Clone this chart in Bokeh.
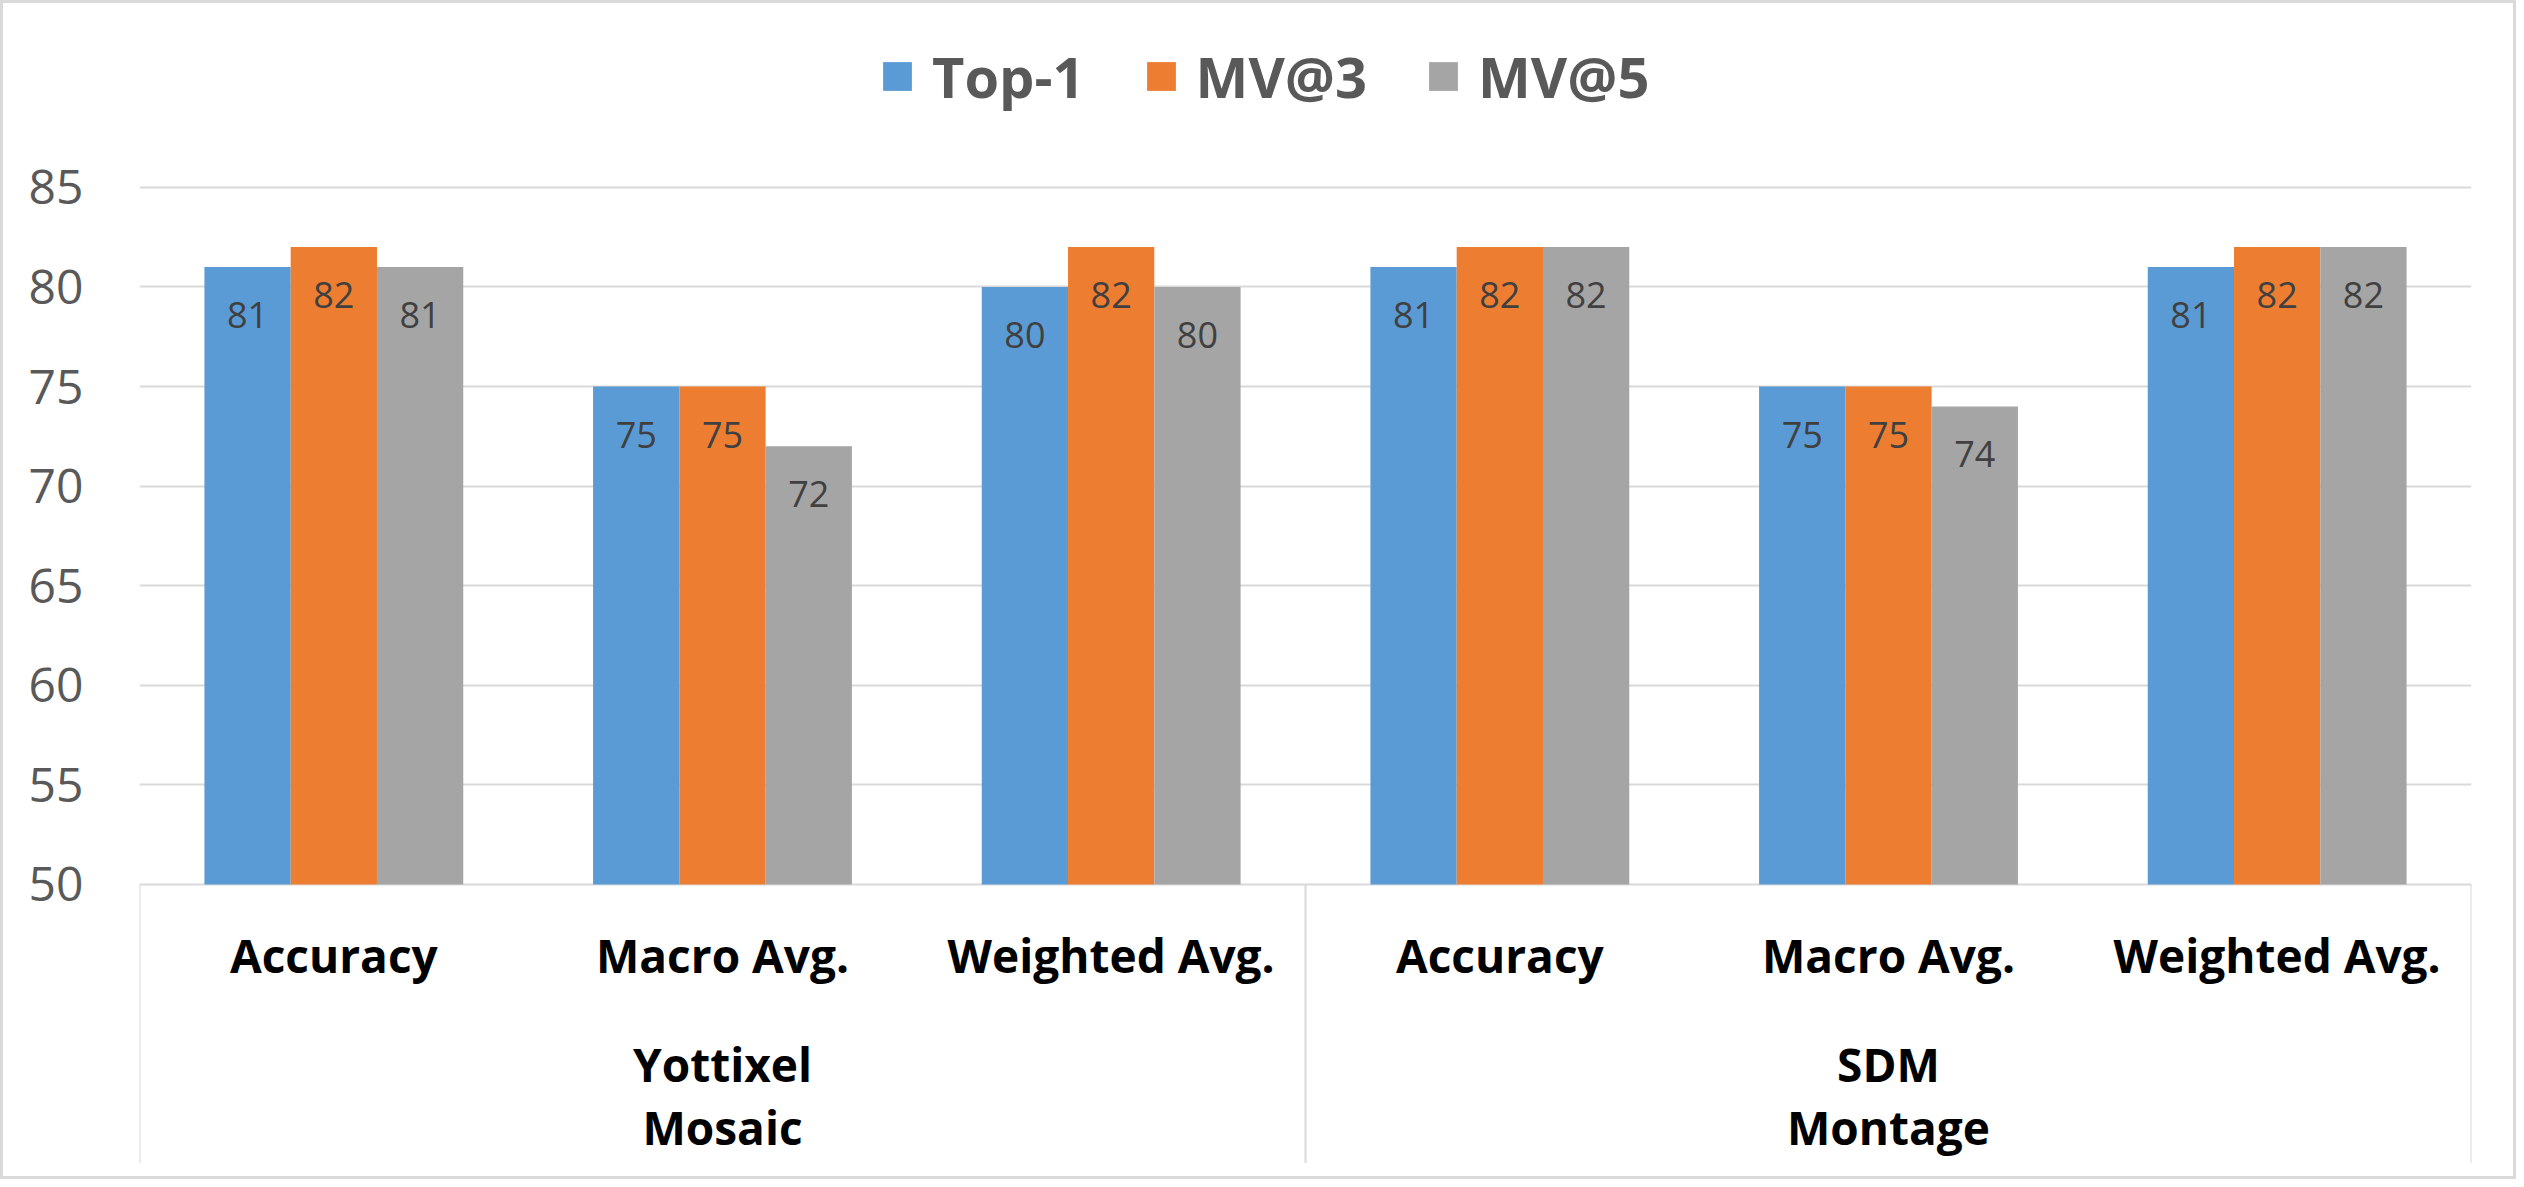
import numpy as np
from bokeh.plotting import figure
from bokeh.models import ColumnDataSource, Range1d, FixedTicker, Legend, LegendItem
from bokeh.core.properties import value
from bokeh.embed import file_html
from bokeh.resources import INLINE

# ---- data ----
groups = ["Yottixel\nMosaic", "SDM\nMontage"]
metrics = ["Accuracy", "Macro Avg.", "Weighted Avg."]
series_names = ["Top-1", "MV@3", "MV@5"]
top1 = [81, 75, 80, 81, 75, 81]
mv3 = [82, 75, 82, 82, 75, 82]
mv5 = [81, 72, 80, 82, 74, 82]
y_ticks = [50, 55, 60, 65, 70, 75, 80, 85]
colors = ["#5B9BD5", "#ED7D31", "#A5A5A5"]

n_cat = len(groups) * len(metrics)
centers = np.arange(n_cat) + 0.5
bar_w = 0.222
offsets = [-bar_w, 0.0, bar_w]

W, H = 2516, 1179
p = figure(width=W, height=H, output_backend="svg", toolbar_location=None,
           x_range=Range1d(0, n_cat), y_range=Range1d(35.04, 94.227),
           x_axis_location=None, min_border=0, min_border_left=136,
           min_border_right=48)
p.outline_line_color = None
p.background_fill_color = "white"
p.border_fill_color = "white"
p.styles = {"border": "3px solid #d9d9d9"}
p.xgrid.visible = False

ticker = FixedTicker(ticks=y_ticks)
yax = p.yaxis[0]
yax.ticker = ticker
yax.axis_line_color = None
yax.major_tick_line_color = None
yax.minor_tick_line_color = None
yax.major_label_standoff = 50
yax.major_label_text_font = "Open Sans"
yax.major_label_text_font_size = "48px"
yax.major_label_text_color = "#595959"
p.ygrid.ticker = ticker
p.ygrid.grid_line_color = "#d9d9d9"
p.ygrid.grid_line_width = 2

renderers = []
for vals, off, col, name in zip([top1, mv3, mv5], offsets, colors, series_names):
    src = ColumnDataSource(dict(x=centers + off, top=vals,
                                label=[str(v) for v in vals]))
    r = p.vbar(x="x", top="top", bottom=y_ticks[0], width=bar_w,
               fill_color=col, line_color=None, source=src)
    p.text(x="x", y="top", text="label", source=src, text_align="center",
           text_baseline="middle", y_offset=48,
           text_font=value("Open Sans"), text_font_size="36px",
           text_color="#404040")
    renderers.append(r)

# separators below the axis
sep_x = [0, len(metrics), n_cat]
p.segment(x0=sep_x, y0=[y_ticks[0]] * 3, x1=sep_x, y1=[36.02] * 3,
          line_color="#d9d9d9", line_width=2)

# category labels
cat_src = ColumnDataSource(dict(x=centers, y=[y_ticks[0]] * n_cat,
                                t=metrics * len(groups)))
p.text(x="x", y="y", text="t", source=cat_src, text_align="center",
       text_baseline="middle", y_offset=71, text_font=value("Open Sans"),
       text_font_style="bold", text_font_size="46px", text_color="#000000")

grp_src = ColumnDataSource(dict(x=[1.5, 4.5], y=[y_ticks[0]] * 2, t=groups))
p.text(x="x", y="y", text="t", source=grp_src, text_align="center",
       text_baseline="middle", y_offset=211, text_line_height=1.03,
       text_font=value("Open Sans"), text_font_style="bold",
       text_font_size="46px", text_color="#000000")

legend = Legend(items=[LegendItem(label=n, renderers=[r])
                       for n, r in zip(series_names, renderers)],
                orientation="horizontal", location=(740, 1068), padding=0,
                margin=0, spacing=58, glyph_width=36, glyph_height=36,
                label_standoff=17, label_text_font="Open Sans",
                label_text_font_style="bold", label_text_font_size="56px",
                label_text_color="#595959", border_line_color=None,
                background_fill_alpha=0)
p.add_layout(legend, "center")

open("out.html", "w").write(file_html(p, INLINE))
